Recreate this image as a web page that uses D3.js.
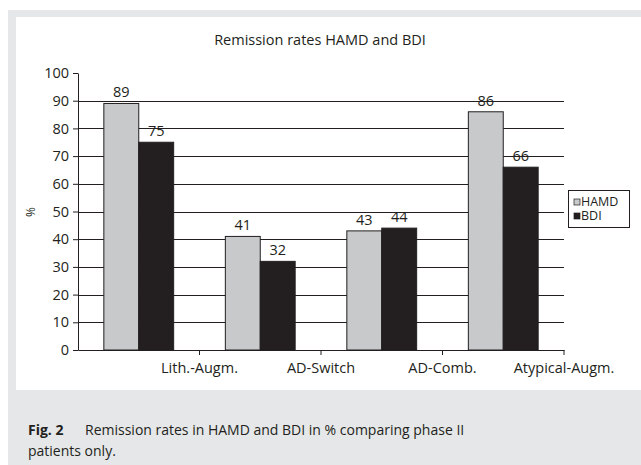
<!DOCTYPE html>
<html>
<head>
<meta charset="utf-8">
<script src="https://cdn.jsdelivr.net/npm/d3@7"></script>
<style>
  body { margin: 0; background: #fff; }
  text { font-family: "Open Sans", "Noto Sans", sans-serif; fill: #231f20; }
</style>
</head>
<body>
<script>
var categories = ["Lith.-Augm.", "AD-Switch", "AD-Comb.", "Atypical-Augm."];
var hamdValues = [89, 41, 43, 86];
var bdiValues = [75, 32, 44, 66];
var seriesNames = ["HAMD", "BDI"];
var yTicks = [0, 10, 20, 30, 40, 50, 60, 70, 80, 90, 100];

var colors = {HAMD: "#c8c9cb", BDI: "#231f20"};

var svg = d3.select("body").append("svg")
    .attr("width", 641)
    .attr("height", 465);

// figure frame
svg.append("rect")
    .attr("x", 8).attr("y", 10)
    .attr("width", 633).attr("height", 455)
    .attr("fill", "#e6e7e8");
svg.append("rect")
    .attr("x", 16).attr("y", 17)
    .attr("width", 625).attr("height", 373)
    .attr("fill", "#fff");

var plotLeft = 78, plotRight = 564, plotTop = 73, plotBottom = 350;

var x = d3.scaleBand()
    .domain(categories)
    .range([plotLeft, plotRight]);

var inner = d3.scaleBand()
    .domain(seriesNames)
    .range([0, x.bandwidth()])
    .paddingOuter(0.74)
    .paddingInner(0);

var y = d3.scaleLinear()
    .domain([0, 100])
    .range([plotBottom, plotTop]);

// gridlines
svg.append("g").selectAll("line")
    .data(yTicks.filter(function(d){ return d > 0 && d < 100; }))
    .enter().append("line")
    .attr("x1", plotLeft).attr("x2", plotRight)
    .attr("y1", function(d){ return Math.round(y(d)) + 0.5; })
    .attr("y2", function(d){ return Math.round(y(d)) + 0.5; })
    .attr("stroke", "#231f20")
    .attr("stroke-width", 1);

// bars
var rows = categories.map(function(c, i){
    return {cat: c, values: [
        {name: "HAMD", value: hamdValues[i]},
        {name: "BDI", value: bdiValues[i]}
    ]};
});

var groups = svg.append("g").selectAll("g")
    .data(rows)
    .enter().append("g")
    .attr("transform", function(d){ return "translate(" + x(d.cat) + ",0)"; });

groups.selectAll("rect")
    .data(function(d){ return d.values; })
    .enter().append("rect")
    .attr("x", function(d){ return inner(d.name); })
    .attr("y", function(d){ return y(d.value); })
    .attr("width", inner.bandwidth())
    .attr("height", function(d){ return plotBottom - y(d.value); })
    .attr("fill", function(d){ return colors[d.name]; })
    .attr("stroke", "#231f20")
    .attr("stroke-width", 1);

groups.selectAll("text")
    .data(function(d){ return d.values; })
    .enter().append("text")
    .attr("x", function(d){ return inner(d.name) + inner.bandwidth() / 2; })
    .attr("y", function(d){ return y(d.value) - 6; })
    .attr("text-anchor", "middle")
    .attr("font-size", 14.5)
    .text(function(d){ return d.value; });

// y axis
var yAxis = svg.append("g")
    .attr("transform", "translate(" + plotLeft + ",0)")
    .call(d3.axisLeft(y).tickValues(yTicks).tickSize(5).tickSizeOuter(0));
yAxis.select(".domain").attr("stroke", "#231f20");
yAxis.selectAll(".tick line").attr("stroke", "#231f20");
yAxis.selectAll(".tick text")
    .attr("font-size", 14.5)
    .attr("font-family", "Open Sans, sans-serif")
    .attr("fill", "#231f20")
    .attr("x", -9);

// x axis, labels sit on the band edges
var xAxis = svg.append("g")
    .attr("transform", "translate(0," + plotBottom + ")")
    .call(d3.axisBottom(x).tickSize(5).tickSizeOuter(0));
xAxis.select(".domain").attr("stroke", "#231f20");
xAxis.selectAll(".tick")
    .attr("transform", function(d){ return "translate(" + (x(d) + x.bandwidth()) + ",0)"; });
xAxis.selectAll(".tick line").attr("stroke", "#231f20");
xAxis.selectAll(".tick text")
    .attr("font-size", 14.5)
    .attr("font-family", "Open Sans, sans-serif")
    .attr("fill", "#231f20")
    .attr("y", 13);

svg.append("text")
    .attr("transform", "translate(35,212) rotate(-90)")
    .attr("text-anchor", "middle")
    .attr("font-size", 12)
    .text("%");

// title
svg.append("text")
    .attr("x", 320)
    .attr("y", 45)
    .attr("text-anchor", "middle")
    .attr("font-size", 14.5)
    .text("Remission rates HAMD and BDI");

// legend
var legend = svg.append("g");
legend.append("rect")
    .attr("x", 568.5).attr("y", 190.5)
    .attr("width", 61).attr("height", 37)
    .attr("fill", "#fff")
    .attr("stroke", "#231f20");
legend.selectAll("rect.sw")
    .data(seriesNames)
    .enter().append("rect")
    .attr("class", "sw")
    .attr("x", 574)
    .attr("y", function(d, i){ return 199 + i * 14; })
    .attr("width", 6).attr("height", 6)
    .attr("fill", function(d){ return colors[d]; })
    .attr("stroke", "#231f20")
    .attr("stroke-width", 0.7);
legend.selectAll("text")
    .data(seriesNames)
    .enter().append("text")
    .attr("x", 581)
    .attr("y", function(d, i){ return 206 + i * 14; })
    .attr("font-family", "Liberation Sans, Arial, sans-serif")
    .attr("font-size", 12.5)
    .text(function(d){ return d; });

// caption
var caption = svg.append("text")
    .attr("x", 28)
    .attr("y", 435)
    .attr("font-size", 14);
caption.append("tspan")
    .attr("font-weight", "bold")
    .text("Fig. 2");
caption.append("tspan")
    .attr("x", 85)
    .text("Remission rates in HAMD and BDI in % comparing phase II");
svg.append("text")
    .attr("x", 28)
    .attr("y", 456)
    .attr("font-size", 14)
    .text("patients only.");
</script>
</body>
</html>
